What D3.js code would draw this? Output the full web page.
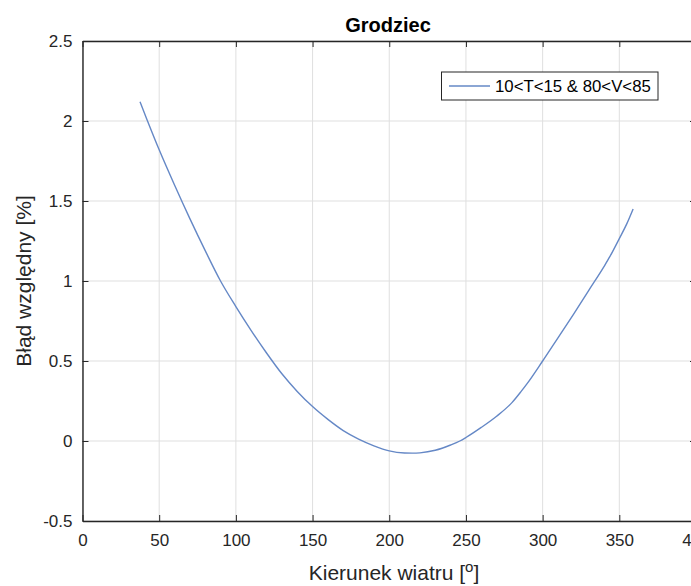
<!DOCTYPE html>
<html><head><meta charset="utf-8">
<script src="https://cdn.jsdelivr.net/npm/d3@7"></script>
<style>
html,body{margin:0;padding:0;background:#fff;}
svg{display:block;font-family:"Liberation Sans",Arial,Helvetica,sans-serif;}
</style></head>
<body><svg id="c" width="691" height="586"></svg>
<script>
const title = "Grodziec";
const xLabel = "Kierunek wiatru [";
const yLabel = "Błąd względny [%]";
const seriesName = "10<T<15 & 80<V<85";
const direction = [37.5,42,50,60,70,80,90,100,110,120,130,140,150,160,170,180,190,200,210,215,220,230,240,246,250,260,270,280,286,290,300,310,320,330,340,344,350,355,359];
const relError  = [2.12,2.01,1.82,1.60,1.39,1.19,1.00,0.84,0.69,0.55,0.42,0.31,0.215,0.135,0.065,0.012,-0.03,-0.062,-0.075,-0.076,-0.074,-0.058,-0.025,0,0.022,0.085,0.155,0.24,0.31,0.36,0.50,0.645,0.79,0.94,1.09,1.155,1.265,1.36,1.45];
const xTicks = [0,50,100,150,200,250,300,350,400];
const yTicks = [-0.5,0,0.5,1,1.5,2,2.5];

const svg = d3.select("#c");
const L = 82.5, R = 696, T = 41, B = 521;
const x = d3.scaleLinear().domain([0,400]).range([L,R]);
const y = d3.scaleLinear().domain([-0.5,2.5]).range([B,T]);
const axisColor = "#262626";

// grid
svg.append("g").selectAll("line").data(xTicks).join("line")
  .attr("x1",d=>x(d)).attr("x2",d=>x(d)).attr("y1",T).attr("y2",B)
  .attr("stroke","#dfdfdf").attr("stroke-width",1);
svg.append("g").selectAll("line").data(yTicks).join("line")
  .attr("x1",L).attr("x2",R).attr("y1",d=>y(d)).attr("y2",d=>y(d))
  .attr("stroke","#dfdfdf").attr("stroke-width",1);

// axes
const fmt = d => String(d);
const gx = svg.append("g").attr("transform",`translate(0,${B})`)
  .call(d3.axisBottom(x).tickValues(xTicks).tickFormat(fmt).tickSizeInner(-6).tickSizeOuter(0).tickPadding(16));
const gxt = svg.append("g").attr("transform",`translate(0,${T})`)
  .call(d3.axisTop(x).tickValues(xTicks).tickFormat("").tickSizeInner(-6).tickSizeOuter(0));
const gy = svg.append("g").attr("transform",`translate(${L},0)`)
  .call(d3.axisLeft(y).tickValues(yTicks).tickFormat(fmt).tickSizeInner(-6).tickSizeOuter(0).tickPadding(16));
const gyr = svg.append("g").attr("transform",`translate(${R},0)`)
  .call(d3.axisRight(y).tickValues(yTicks).tickFormat("").tickSizeInner(-6).tickSizeOuter(0));
[gx,gxt,gy,gyr].forEach(g=>{
  g.select(".domain").attr("stroke",axisColor).attr("stroke-width",1.4);
  g.selectAll(".tick line").attr("stroke",axisColor).attr("stroke-width",1);
  g.selectAll(".tick text").attr("fill","#262626").attr("font-size",17).attr("font-family",null);
});
gx.selectAll(".tick text").attr("dy","0.71em").attr("y",13);
gy.selectAll(".tick text").attr("x",-10).attr("dy","0.35em");

// line
const line = d3.line().x((d,i)=>x(direction[i])).y(d=>y(d)).curve(d3.curveMonotoneX);
svg.append("path").datum(relError).attr("d",line)
  .attr("fill","none").attr("stroke","#6588c6").attr("stroke-width",1.4);

// title
svg.append("text").attr("x",388).attr("y",32).attr("text-anchor","middle")
  .attr("font-weight","bold").attr("font-size",20).attr("fill","#000").text(title);

// x label
const xl = svg.append("text").attr("x",394).attr("y",580).attr("text-anchor","middle")
  .attr("font-size",21).attr("fill","#262626");
xl.append("tspan").text(xLabel);
xl.append("tspan").attr("font-size",15).attr("dy",-8).text("o");
xl.append("tspan").attr("dy",8).text("]");

// y label
svg.append("text").attr("transform",`translate(31,281) rotate(-90)`).attr("text-anchor","middle")
  .attr("font-size",21).attr("fill","#262626").text(yLabel);

// legend
const lg = svg.append("g");
lg.append("rect").attr("x",441.5).attr("y",72).attr("width",216.5).attr("height",28)
  .attr("fill","#fff").attr("stroke","#262626").attr("stroke-width",1);
lg.append("line").attr("x1",449).attr("x2",490).attr("y1",86).attr("y2",86)
  .attr("stroke","#6588c6").attr("stroke-width",1.4);
lg.append("text").attr("x",495).attr("y",86).attr("dy","0.35em").attr("font-size",16.8)
  .attr("fill","#000").text(seriesName);
</script></body></html>
